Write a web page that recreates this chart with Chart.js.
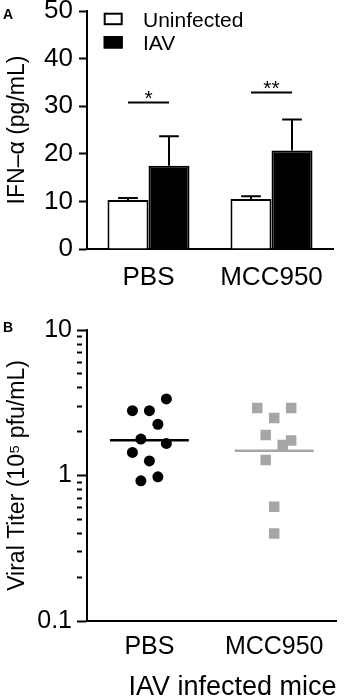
<!DOCTYPE html>
<html>
<head>
<meta charset="utf-8">
<script src="https://cdn.jsdelivr.net/npm/chart.js@4.4.1/dist/chart.umd.min.js"></script>
<style>
  html, body { margin: 0; padding: 0; background: #fff; }
  #wrap { position: relative; width: 344px; height: 698px; overflow: hidden; background: #fff; }
  #ca { position: absolute; left: 0; top: 0; }
  #cb { position: absolute; left: 0; top: 300px; }
</style>
</head>
<body>
<div id="wrap">
  <canvas id="ca" width="344" height="300"></canvas>
  <canvas id="cb" width="344" height="398"></canvas>
</div>
<script>
// ---------------- DATA ----------------
// Panel A: IFN-alpha (pg/mL), mean + upward error
const categoriesA = ['PBS', 'MCC950'];
const seriesNamesA = ['Uninfected', 'IAV'];
const uninfectedMean = [10.3, 10.5];
const uninfectedErr = [0.4, 0.6];
const iavMean = [17.5, 20.7];
const iavErr = [6.2, 6.5];
const sigLevel = [30.8, 32.9];
const sigMarks = ['*', '**'];
const yTicksA = [0, 10, 20, 30, 40, 50];

// Panel B: viral titer (10^5 pfu/mL), individual mice
const categoriesB = ['PBS', 'MCC950'];
const pbsTiter = [3.36, 2.79, 2.79, 2.25, 1.78, 1.66, 1.44, 1.26, 0.98, 0.92];
const pbsSlot  = [2, -2, 0, 1, -1, 2, -2, 0, 1, -1];
const mccTiter = [2.91, 2.91, 2.48, 1.90, 1.74, 1.62, 1.28, 0.61, 0.40];
const mccSlot  = [-2, 2, 0, -1, 2, 1, -1, 0, 0];
const titerCenterLine = [1.75, 1.48];
const yTicksB = [0.1, 1, 10];

// ---------------- STYLE ----------------
const FONT = '"Liberation Sans", Arial, Helvetica, sans-serif';
const GRAY = '#a6a6a6';
const JITTER = 0.068;     // x spacing between dot columns (axis units)
const LINE_HALF = 0.316;  // half width of the centre line (axis units)
Chart.defaults.font.family = FONT;
Chart.defaults.color = '#000';
Chart.defaults.animation = false;

const panelLetter = (letter, x, y) => ({
  id: 'panelLetter' + letter,
  afterDraw(chart) {
    const c = chart.ctx;
    c.save();
    c.font = 'bold 14px ' + FONT;
    c.fillStyle = '#000';
    c.textBaseline = 'alphabetic';
    c.fillText(letter, x, y);
    c.restore();
  }
});

const errorBars = {
  id: 'errorBars',
  afterDatasetsDraw(chart) {
    const c = chart.ctx, ys = chart.scales.y;
    chart.data.datasets.forEach((ds, di) => {
      const meta = chart.getDatasetMeta(di);
      meta.data.forEach((bar, i) => {
        const yb = ys.getPixelForValue(ds.data[i]);
        const yt = ys.getPixelForValue(ds.data[i] + ds.errors[i]);
        const half = bar.width * 0.24;
        c.save();
        c.strokeStyle = '#000';
        c.lineWidth = 2;
        c.beginPath();
        c.moveTo(bar.x, yb); c.lineTo(bar.x, yt);
        c.moveTo(bar.x - half, yt); c.lineTo(bar.x + half, yt);
        c.stroke();
        c.restore();
      });
    });
  }
};

const significance = {
  id: 'significance',
  afterDatasetsDraw(chart) {
    const c = chart.ctx, ys = chart.scales.y;
    const m0 = chart.getDatasetMeta(0), m1 = chart.getDatasetMeta(1);
    sigLevel.forEach((lv, i) => {
      const py = ys.getPixelForValue(lv);
      const x0 = m0.data[i].x, x1 = m1.data[i].x;
      c.save();
      c.strokeStyle = '#000';
      c.lineWidth = 2;
      c.beginPath(); c.moveTo(x0, py); c.lineTo(x1, py); c.stroke();
      c.font = '21px ' + FONT;
      c.fillStyle = '#000';
      c.textAlign = 'center';
      c.textBaseline = 'alphabetic';
      c.fillText(sigMarks[i], (x0 + x1) / 2, py + 3);
      c.restore();
    });
  }
};

const insideLegend = {
  id: 'insideLegend',
  afterDraw(chart) {
    const c = chart.ctx, a = chart.chartArea;
    const bx = a.left + 16.7, by = a.top + 1.7;
    chart.data.datasets.forEach((ds, i) => {
      const top = by + i * 23.3;
      c.save();
      c.fillStyle = ds.backgroundColor;
      c.strokeStyle = ds.borderColor;
      c.lineWidth = 2;
      c.fillRect(bx, top, 19, 12.5);
      c.strokeRect(bx + 1, top + 1, 17, 10.5);
      c.font = '21px ' + FONT;
      c.fillStyle = '#000';
      c.textBaseline = 'alphabetic';
      c.fillText(ds.label, bx + 39.3, top + 14);
      c.restore();
    });
  }
};

// ---------------- PANEL A ----------------
new Chart(document.getElementById('ca'), {
  type: 'bar',
  data: {
    labels: categoriesA,
    datasets: [
      { label: seriesNamesA[0], data: uninfectedMean, errors: uninfectedErr,
        backgroundColor: '#ffffff', borderColor: '#000', borderWidth: 2, borderSkipped: 'bottom',
        categoryPercentage: 0.667, barPercentage: 1.0 },
      { label: seriesNamesA[1], data: iavMean, errors: iavErr,
        backgroundColor: '#000000', borderColor: '#000', borderWidth: 2, borderSkipped: 'bottom',
        categoryPercentage: 0.667, barPercentage: 1.0 }
    ]
  },
  options: {
    responsive: false,
    animation: false,
    events: [],
    layout: { padding: { left: 0, right: 11, top: 11, bottom: 0 } },
    plugins: { legend: { display: false }, tooltip: { enabled: false } },
    scales: {
      x: {
        grid: { display: false },
        border: { display: true, color: '#000', width: 2 },
        ticks: { font: { size: 26 }, color: '#000', padding: 5 },
        afterFit(s) { s.height = 51; s.paddingLeft = 0; s.paddingRight = 0; }
      },
      y: {
        min: yTicksA[0], max: yTicksA[yTicksA.length - 1],
        afterBuildTicks(s) { s.ticks = yTicksA.map(v => ({ value: v })); },
        grid: { display: true, drawOnChartArea: false, drawTicks: true, tickLength: 8, tickWidth: 2, tickColor: '#000' },
        border: { display: true, color: '#000', width: 2 },
        ticks: { font: { size: 26 }, color: '#000', padding: 6, autoSkip: false },
        title: { display: true, text: 'IFN–α (pg/mL)', font: { size: 23 }, color: '#000', padding: { top: 4, bottom: 0 } },
        afterFit(s) { s.width = 87; s.paddingTop = 0; s.paddingBottom = 0; }
      }
    }
  },
  plugins: [errorBars, significance, insideLegend, panelLetter('A', 3, 19)]
});

// ---------------- PANEL B ----------------
const isDecade = v => Math.abs(Math.log10(v) - Math.round(Math.log10(v))) < 1e-6;

new Chart(document.getElementById('cb'), {
  type: 'scatter',
  data: {
    datasets: [
      { label: categoriesB[0],
        data: pbsTiter.map((v, i) => ({ x: 0.5 + pbsSlot[i] * JITTER, y: v })),
        pointStyle: 'circle', pointRadius: 5.5, backgroundColor: '#000', borderWidth: 0 },
      { label: categoriesB[1],
        data: mccTiter.map((v, i) => ({ x: 1.5 + mccSlot[i] * JITTER, y: v })),
        pointStyle: 'rect', pointRadius: 7.4, backgroundColor: GRAY, borderWidth: 0 },
      { type: 'line', label: 'PBS centre',
        data: [{ x: 0.5 - LINE_HALF, y: titerCenterLine[0] }, { x: 0.5 + LINE_HALF, y: titerCenterLine[0] }],
        borderColor: '#000', borderWidth: 2.5, pointRadius: 0, fill: false },
      { type: 'line', label: 'MCC950 centre',
        data: [{ x: 1.5 - LINE_HALF, y: titerCenterLine[1] }, { x: 1.5 + LINE_HALF, y: titerCenterLine[1] }],
        borderColor: GRAY, borderWidth: 2.5, pointRadius: 0, fill: false }
    ]
  },
  options: {
    responsive: false,
    animation: false,
    events: [],
    layout: { padding: { left: 0, right: 1, top: 30, bottom: 0 } },
    plugins: { legend: { display: false }, tooltip: { enabled: false } },
    scales: {
      x: {
        type: 'linear', min: 0, max: categoriesB.length,
        afterBuildTicks(s) { s.ticks = categoriesB.map((c, i) => ({ value: i + 0.5 })); },
        grid: { display: false },
        border: { display: true, color: '#000', width: 2 },
        ticks: { font: { size: 25 }, color: '#000', padding: 3, autoSkip: false,
                 callback: (v, i) => categoriesB[i] },
        title: { display: true, text: 'IAV infected mice', align: 'end', font: { size: 27 }, color: '#000', padding: { top: 0, bottom: -6 } },
        afterFit(s) { s.height = 77; s.paddingLeft = 0; s.paddingRight = 0; }
      },
      y: {
        type: 'logarithmic', min: yTicksB[0], max: yTicksB[yTicksB.length - 1],
        afterBuildTicks(s) {
          const t = [];
          for (let d = 0; d < yTicksB.length - 1; d++) {
            for (let k = 1; k <= 9; k++) t.push({ value: +(yTicksB[d] * k).toPrecision(6) });
          }
          t.push({ value: yTicksB[yTicksB.length - 1] });
          s.ticks = t;
        },
        grid: { display: true, drawOnChartArea: false, drawTicks: true, tickLength: 10, tickWidth: 2, tickColor: '#000',
                tickBorderDash: (ctx) => (ctx.tick && !isDecade(ctx.tick.value)) ? [5, 100] : [] },
        border: { display: true, color: '#000', width: 2 },
        ticks: { font: { size: 25 }, color: '#000', padding: 5, autoSkip: false,
                 callback: (v) => { const i = yTicksB.findIndex(t => Math.abs(t - v) < t * 1e-6); return i >= 0 ? String(yTicksB[i]) : ''; } },
        title: { display: true, text: 'Viral Titer (10⁵ pfu/mL)', font: { size: 23 }, color: '#000', padding: { top: 4, bottom: 0 } },
        afterFit(s) { s.width = 87; s.paddingTop = 0; s.paddingBottom = 0; }
      }
    }
  },
  plugins: [panelLetter('B', 3, 32)]
});
</script>
</body>
</html>
